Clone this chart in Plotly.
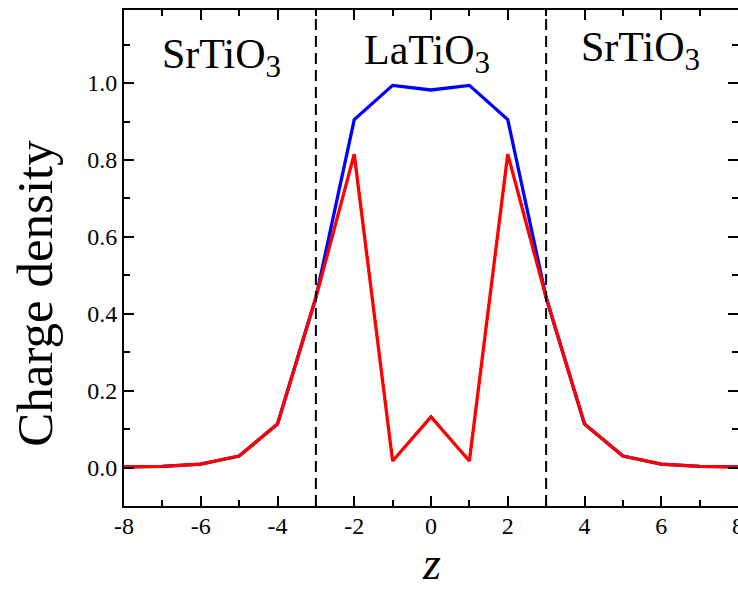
import plotly.graph_objects as go

z = [-8, -7, -6, -5, -4, -3, -2, -1, 0, 1, 2, 3, 4, 5, 6, 7, 8]
total_density = [0.002, 0.003, 0.009, 0.030, 0.113, 0.442, 0.905, 0.994, 0.982, 0.994, 0.905, 0.442, 0.113, 0.030, 0.009, 0.003, 0.002]
orbital_density = [0.002, 0.003, 0.009, 0.030, 0.113, 0.442, 0.815, 0.017, 0.132, 0.017, 0.815, 0.442, 0.113, 0.030, 0.009, 0.003, 0.002]
interfaces = [-3, 3]
region_labels = ["SrTiO<sub><span style='font-size:31px'>3</span></sub>",
                 "LaTiO<sub><span style='font-size:31px'>3</span></sub>",
                 "SrTiO<sub><span style='font-size:31px'>3</span></sub>"]
region_x = [-5.45, -0.1, 5.45]
region_y = [0.905, 0.912, 0.918]
y_ticks = [0.0, 0.2, 0.4, 0.6, 0.8, 1.0]
x_ticks = [-8, -6, -4, -2, 0, 2, 4, 6, 8]

FONT = "Liberation Serif"

fig = go.Figure()
fig.add_trace(go.Scatter(x=z, y=total_density, mode="lines",
                         line=dict(color="#0000FF", width=3.3), showlegend=False))
fig.add_trace(go.Scatter(x=z, y=orbital_density, mode="lines",
                         line=dict(color="#FF0000", width=3.3), showlegend=False))

for xi in interfaces:
    fig.add_shape(type="line", x0=xi, x1=xi, y0=0, y1=1, xref="x", yref="paper",
                  line=dict(color="black", width=2, dash="11px,6px"))

for lab, xx, yy in zip(region_labels, region_x, region_y):
    fig.add_annotation(x=xx, y=yy, xref="x", yref="paper", text=lab, showarrow=False,
                       font=dict(family=FONT, size=42, color="black"),
                       xanchor="center", yanchor="middle")

fig.add_annotation(x=-0.145, y=0.43, xref="paper", yref="paper", text="Charge density",
                   textangle=-90, showarrow=False, xanchor="center", yanchor="middle",
                   font=dict(family=FONT, size=51, color="black"))
fig.add_annotation(x=0.5, y=-0.116, xref="paper", yref="paper", text="<i>z</i>",
                   showarrow=False, xanchor="center", yanchor="middle",
                   font=dict(family=FONT, size=46, color="black"))

fig.update_xaxes(range=[-8, 8], tickmode="array", tickvals=x_ticks, ticktext=[str(v) for v in x_ticks],
                 showline=True, linecolor="black", linewidth=2, mirror="ticks",
                 ticks="inside", tickcolor="black", tickwidth=2, ticklen=10,
                 showgrid=False, zeroline=False, automargin=False,
                 ticklabeloverflow="allow", ticklabelstandoff=-3,
                 tickfont=dict(family=FONT, size=24, color="black"),
                 minor=dict(ticks="inside", dtick=1, ticklen=6, tickwidth=2, tickcolor="black", showgrid=False))
fig.update_yaxes(range=[-0.1, 1.19], tickmode="array", tickvals=y_ticks, ticktext=[f"{v:.1f}" for v in y_ticks],
                 showline=True, linecolor="black", linewidth=2, mirror="ticks",
                 ticks="inside", tickcolor="black", tickwidth=2, ticklen=10,
                 showgrid=False, zeroline=False, automargin=False,
                 tickfont=dict(family=FONT, size=24, color="black"),
                 minor=dict(ticks="inside", dtick=0.1, tick0=0, ticklen=6, tickwidth=2, tickcolor="black", showgrid=False))

fig.update_layout(template="none", width=738, height=590, margin=dict(l=124, r=0, t=10, b=84),
                  font=dict(family=FONT, color="black"),
                  plot_bgcolor="white", paper_bgcolor="white", showlegend=False)

fig.write_html("out.html")
